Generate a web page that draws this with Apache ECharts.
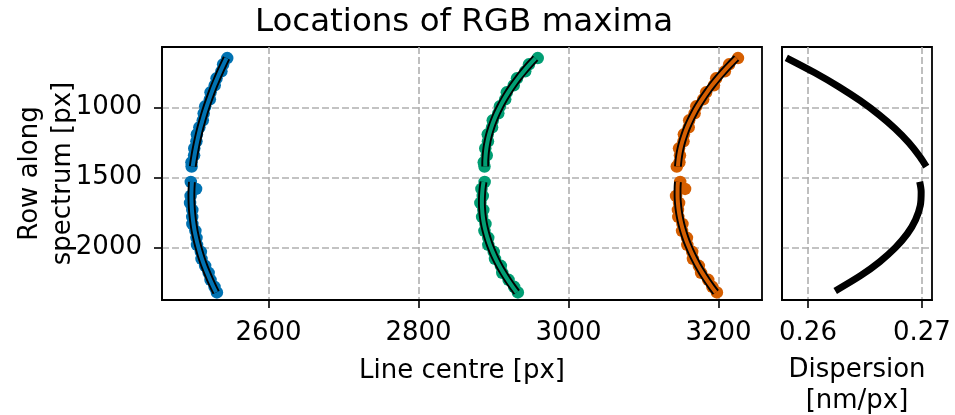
<!DOCTYPE html>
<html><head><meta charset="utf-8">
<script src="https://cdn.jsdelivr.net/npm/echarts@6/dist/echarts.min.js"></script>
<style>html,body{margin:0;padding:0;background:#fff}#c{width:955px;height:415px}</style>
</head><body><div id="c"></div>
<script>
// ---- data (rows along spectrum, line centres in px) ----
const rowsTop = [645, 690, 740, 790, 840, 890, 940, 990, 1040, 1090, 1140, 1190, 1240, 1290, 1340, 1390, 1420];
const rowsBot = [1530, 1580, 1630, 1680, 1730, 1780, 1830, 1880, 1930, 1980, 2030, 2080, 2130, 2180, 2230, 2280, 2320];

// measured maxima (scatter)
const blueTop   = [2545.0, 2539.5, 2537.2, 2530.7, 2528.3, 2522.7, 2521.8, 2515.6, 2513.6, 2512.4, 2507.8, 2504.5, 2503.9, 2501.0, 2500.8, 2497.3, 2497.5];
const blueBot   = [2496.4, 2503.4, 2496.2, 2495.4, 2498.4, 2498.3, 2498.5, 2502.5, 2504.0, 2504.7, 2509.8, 2510.7, 2515.5, 2520.2, 2522.7, 2528.0, 2531.2];
const greenTop  = [2959.0, 2947.3, 2942.3, 2931.3, 2927.0, 2917.7, 2915.6, 2908.5, 2906.4, 2899.0, 2898.1, 2892.3, 2892.6, 2889.0, 2891.0, 2887.0, 2888.0];
const greenBot  = [2888.2, 2883.9, 2885.7, 2882.5, 2886.4, 2884.8, 2889.3, 2887.9, 2893.0, 2893.1, 2900.3, 2902.0, 2909.8, 2911.7, 2920.1, 2927.5, 2932.5];
const orangeTop = [3226.0, 3214.2, 3208.5, 3196.9, 3193.9, 3183.5, 3179.6, 3170.3, 3168.1, 3160.9, 3160.3, 3153.8, 3153.3, 3147.4, 3148.6, 3147.9, 3144.4];
const orangeBot = [3148.9, 3155.4, 3143.4, 3147.4, 3145.9, 3146.4, 3151.9, 3151.4, 3157.9, 3158.4, 3164.9, 3165.9, 3173.8, 3176.8, 3186.3, 3191.8, 3197.9];

// fitted curves
const blueFitTop   = [2544.0, 2540.0, 2535.7, 2531.7, 2527.8, 2524.2, 2520.8, 2517.6, 2514.6, 2511.9, 2509.3, 2507.0, 2504.9, 2503.0, 2501.3, 2499.8, 2499.0];
const blueFitBot   = [2497.9, 2497.4, 2497.2, 2497.4, 2497.9, 2498.8, 2500.0, 2501.5, 2503.5, 2505.7, 2508.3, 2511.2, 2514.5, 2518.2, 2522.2, 2526.5, 2530.2];
const greenFitTop  = [2956.0, 2948.3, 2940.3, 2932.8, 2926.0, 2919.7, 2914.1, 2909.0, 2904.4, 2900.5, 2897.1, 2894.3, 2892.1, 2890.5, 2889.5, 2889.0, 2889.0];
const greenFitBot  = [2886.7, 2885.4, 2884.7, 2884.5, 2884.9, 2885.8, 2887.3, 2889.4, 2892.0, 2895.1, 2898.8, 2903.0, 2907.8, 2913.2, 2919.1, 2925.5, 2931.0];
const orangeFitTop = [3224.0, 3215.7, 3207.0, 3198.9, 3191.4, 3184.5, 3178.1, 3172.3, 3167.1, 3162.4, 3158.3, 3154.8, 3151.8, 3149.4, 3147.6, 3146.4, 3145.9];
const orangeFitBot = [3145.9, 3145.4, 3145.4, 3145.9, 3146.9, 3148.4, 3150.4, 3152.9, 3155.9, 3159.4, 3163.4, 3167.9, 3172.8, 3178.3, 3184.3, 3190.8, 3196.4];

// dispersion [nm/px]
const dispRowsTop = [643, 750, 850, 950, 1050, 1150, 1250, 1350, 1421];
const dispTop     = [0.25810, 0.26060, 0.26270, 0.26458, 0.26623, 0.26765, 0.26885, 0.26982, 0.27038];
const dispRowsBot = [1529, 1600, 1700, 1800, 1900, 2000, 2100, 2200, 2309];
const dispBot     = [0.26980, 0.26993, 0.26985, 0.26944, 0.26872, 0.26767, 0.26630, 0.26461, 0.26239];

// ticks
const xTicks = [2600, 2800, 3000, 3200];
const yTicks = [1000, 1500, 2000];
const dTicks = [0.26, 0.27];

// ---- chart ----
const FONT = 'DejaVu Sans';
const C_BLUE = '#0072B2', C_GREEN = '#009E73', C_ORANGE = '#D55E00';
const pair = (xs, ys) => xs.map((x, i) => [x, ys[i]]);
const gridLine = { show: true, lineStyle: { type: [7, 3], color: '#b0b0b0', width: 1.6 } };
const tickStyle = { lineStyle: { color: '#000', width: 1.6 } };

function scatter(xs, ys, color) {
  return { type: 'scatter', xAxisIndex: 0, yAxisIndex: 0, data: pair(xs, ys), symbolSize: 12.5,
    itemStyle: { color: color, opacity: 1 }, z: 2, silent: true };
}
function fit(xs, ys, color) {
  return [
    { type: 'line', xAxisIndex: 0, yAxisIndex: 0, data: pair(xs, ys), showSymbol: false, smooth: 0.3,
      lineStyle: { color: '#000', width: 7.8, cap: 'butt' }, z: 3, silent: true },
    { type: 'line', xAxisIndex: 0, yAxisIndex: 0, data: pair(xs, ys), showSymbol: false, smooth: 0.3,
      lineStyle: { color: color, width: 4, cap: 'butt' }, z: 4, silent: true }
  ];
}
const gridBase = { top: 47, bottom: 115, show: true, borderColor: '#000', borderWidth: 1.8,
  backgroundColor: 'transparent', containLabel: false, outerBoundsMode: 'none' };
const labelText = { fontSize: 26, fontFamily: FONT, color: '#000' };

const option = {
  animation: false,
  backgroundColor: '#fff',
  textStyle: { fontFamily: FONT, color: '#000' },
  title: { text: 'Locations of RGB maxima', left: 459, top: 1, textAlign: 'center',
    textStyle: { fontFamily: FONT, fontSize: 32.5, fontWeight: 'normal', color: '#000' } },
  grid: [
    Object.assign({ left: 162, right: 193 }, gridBase),
    Object.assign({ left: 782, right: 23 }, gridBase)
  ],
  xAxis: [
    { type: 'value', gridIndex: 0, min: 2458, max: 3258,
      axisLine: { show: true, lineStyle: { color: '#000', width: 1.8 } },
      axisTick: Object.assign({ show: true, length: 8, customValues: xTicks }, tickStyle),
      axisLabel: Object.assign({ customValues: xTicks, margin: 20, formatter: v => String(v) }, labelText),
      splitLine: gridLine,
      name: 'Line centre [px]', nameLocation: 'middle', nameGap: 58,
      nameTextStyle: Object.assign({}, labelText) },
    { type: 'value', gridIndex: 1, min: 0.25772, max: 0.27088,
      axisLine: { show: true, lineStyle: { color: '#000', width: 1.8 } },
      axisTick: Object.assign({ show: true, length: 8, customValues: dTicks }, tickStyle),
      axisLabel: Object.assign({ customValues: dTicks, margin: 20, formatter: v => v.toFixed(2) }, labelText),
      splitLine: gridLine,
      name: 'Dispersion\n[nm/px]', nameLocation: 'middle', nameGap: 55,
      nameTextStyle: Object.assign({ lineHeight: 31 }, labelText) }
  ],
  yAxis: [
    { type: 'value', gridIndex: 0, min: 566, max: 2374, inverse: true,
      axisLine: { show: true, lineStyle: { color: '#000', width: 1.8 } },
      axisTick: Object.assign({ show: true, length: 8, customValues: yTicks }, tickStyle),
      axisLabel: Object.assign({ customValues: yTicks, margin: 20, formatter: v => String(v) }, labelText),
      splitLine: gridLine,
      name: 'Row along\nspectrum [px]', nameLocation: 'middle', nameGap: 82, nameRotate: 90,
      nameMoveOverlap: false,
      nameTextStyle: Object.assign({ lineHeight: 33 }, labelText) },
    { type: 'value', gridIndex: 1, min: 566, max: 2374, inverse: true,
      axisLine: { show: true, lineStyle: { color: '#000', width: 1.8 } },
      axisTick: { show: false, customValues: yTicks },
      axisLabel: { show: false, customValues: yTicks },
      splitLine: gridLine }
  ],
  series: [
    scatter(blueTop, rowsTop, C_BLUE), scatter(blueBot, rowsBot, C_BLUE),
    scatter(greenTop, rowsTop, C_GREEN), scatter(greenBot, rowsBot, C_GREEN),
    scatter(orangeTop, rowsTop, C_ORANGE), scatter(orangeBot, rowsBot, C_ORANGE),
    ...fit(blueFitTop, rowsTop, C_BLUE), ...fit(blueFitBot, rowsBot, C_BLUE),
    ...fit(greenFitTop, rowsTop, C_GREEN), ...fit(greenFitBot, rowsBot, C_GREEN),
    ...fit(orangeFitTop, rowsTop, C_ORANGE), ...fit(orangeFitBot, rowsBot, C_ORANGE),
    { type: 'line', xAxisIndex: 1, yAxisIndex: 1, data: pair(dispTop, dispRowsTop), showSymbol: false, smooth: 0.3,
      lineStyle: { color: '#000', width: 7, cap: 'butt' }, z: 3, silent: true },
    { type: 'line', xAxisIndex: 1, yAxisIndex: 1, data: pair(dispBot, dispRowsBot), showSymbol: false, smooth: 0.3,
      lineStyle: { color: '#000', width: 7, cap: 'butt' }, z: 3, silent: true }
  ]
};
const chart = echarts.init(document.getElementById('c'), null, { renderer: 'canvas' });
chart.setOption(option);
</script>
</body></html>
